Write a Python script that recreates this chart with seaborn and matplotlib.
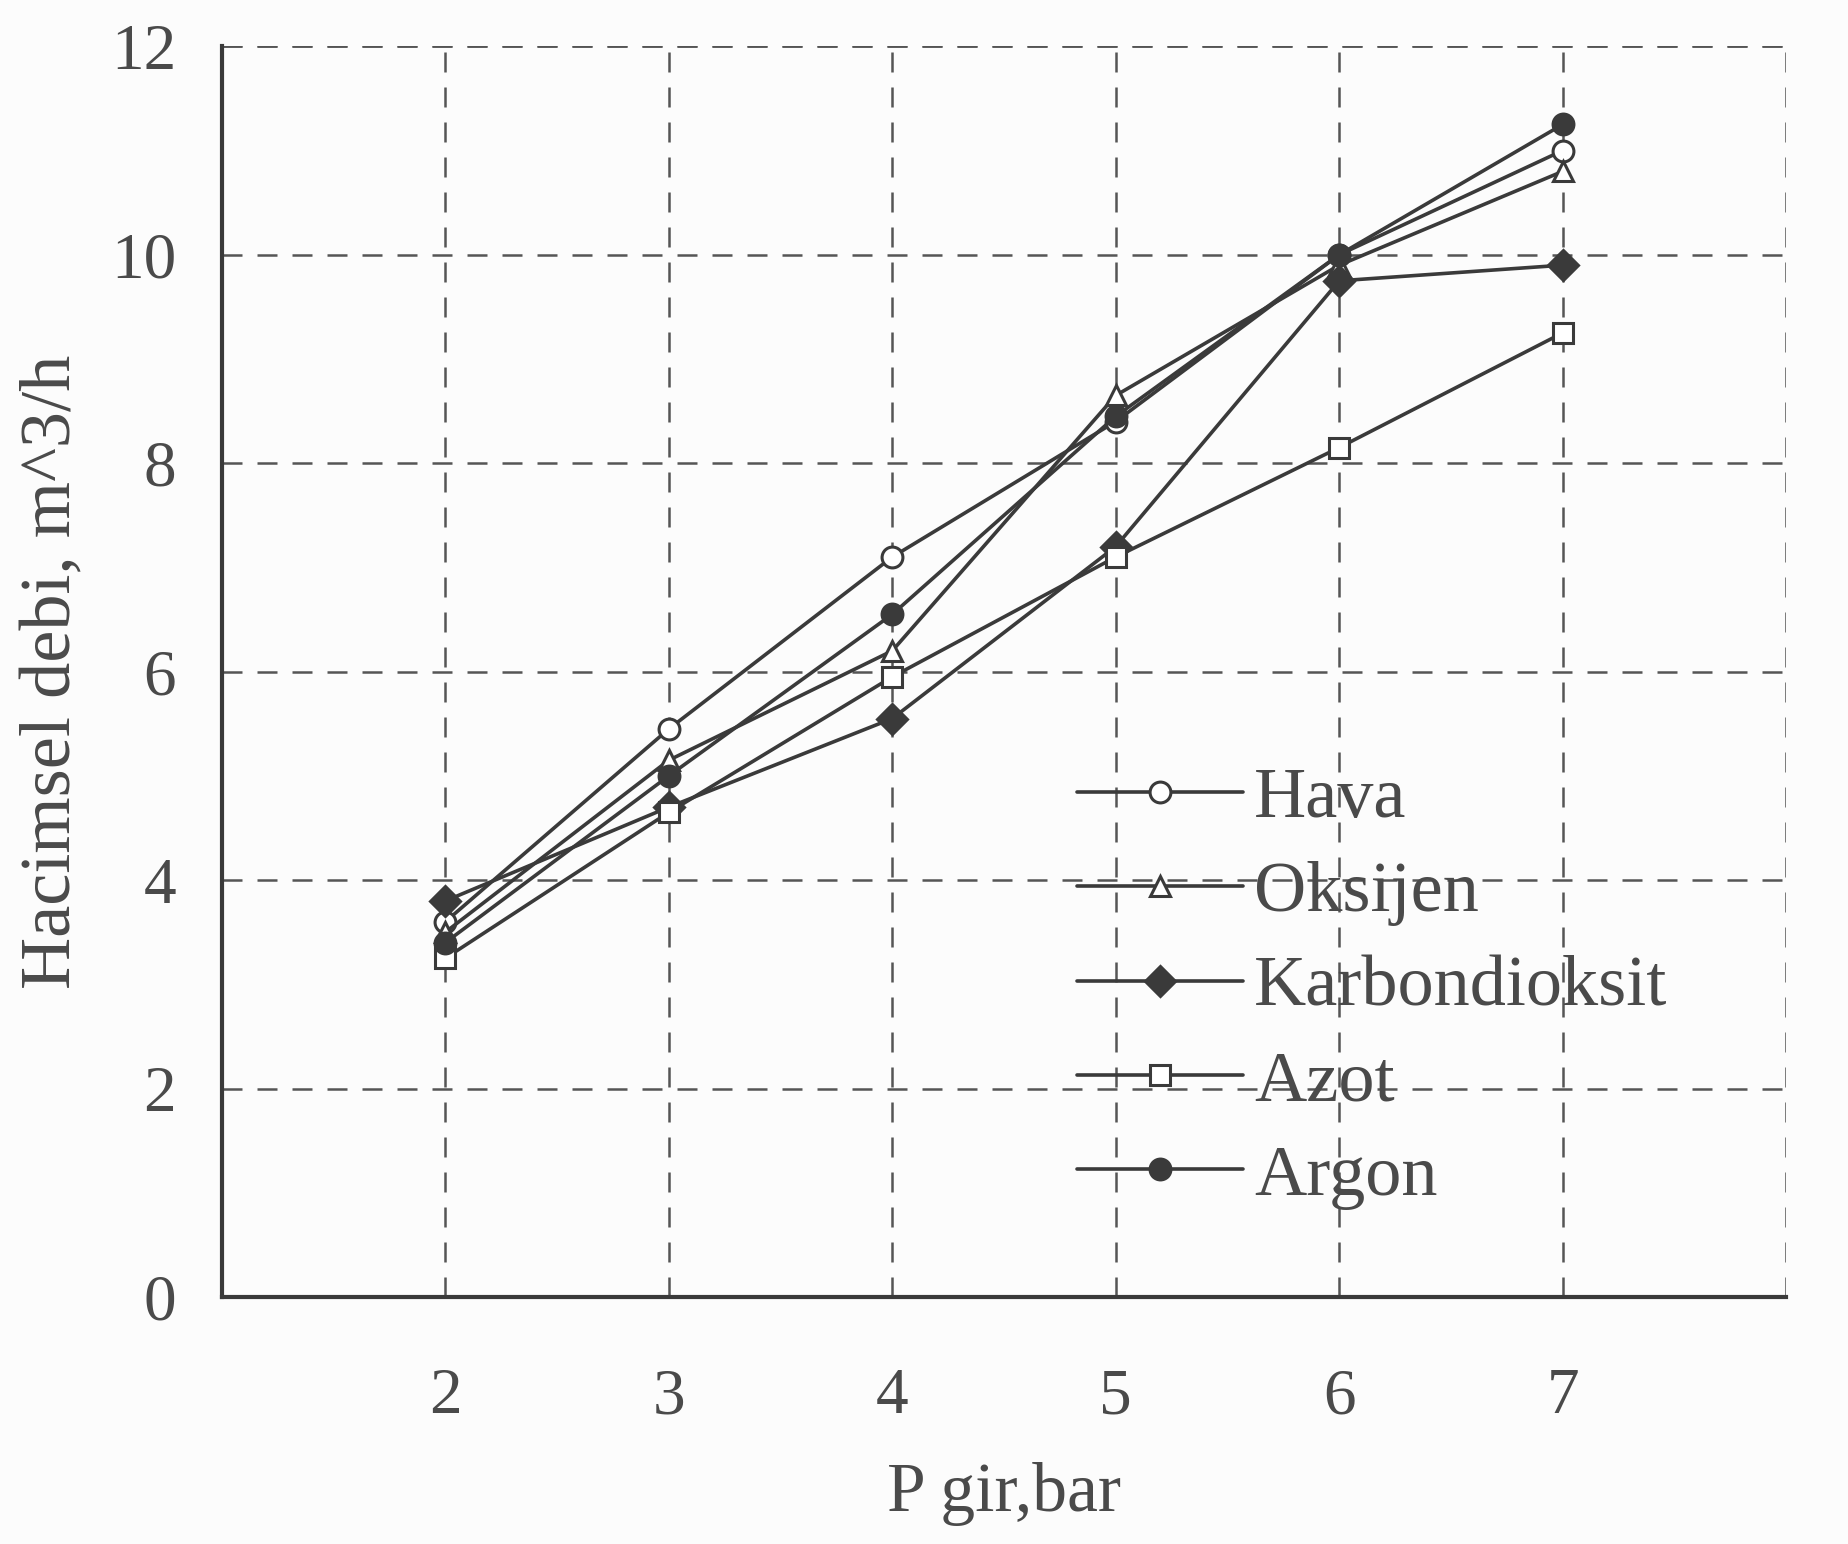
import matplotlib
matplotlib.use("Agg")
import matplotlib.pyplot as plt
import seaborn as sns
import pandas as pd

# ---- data ----
pressure = [2, 3, 4, 5, 6, 7]
hava = [3.6, 5.45, 7.1, 8.4, 10.0, 11.0]
oksijen = [3.5, 5.15, 6.2, 8.65, 9.9, 10.8]
karbondioksit = [3.8, 4.7, 5.55, 7.2, 9.75, 9.9]
azot = [3.25, 4.65, 5.95, 7.1, 8.15, 9.25]
argon = [3.4, 5.0, 6.55, 8.45, 10.0, 11.25]
series_names = ["Hava", "Oksijen", "Karbondioksit", "Azot", "Argon"]
x_ticks = [2, 3, 4, 5, 6, 7]
y_ticks = [0, 2, 4, 6, 8, 10, 12]

values = {"Hava": hava, "Oksijen": oksijen, "Karbondioksit": karbondioksit,
          "Azot": azot, "Argon": argon}
df = pd.DataFrame([
    {"P": p, "Q": v, "gas": name}
    for name in series_names for p, v in zip(pressure, values[name])
])

sns.set_theme(style="white")
plt.rcParams["font.family"] = ["Liberation Serif", "DejaVu Serif"]

ink = "#3a3a3a"
text_c = "#4a4a4a"

fig = plt.figure(figsize=(18.49, 15.44), dpi=100)
fig.patch.set_facecolor("#fcfcfc")
ax = fig.add_axes([0.12, 0.16, 0.846, 0.81])
ax.set_facecolor("#fcfcfc")

styles = {
    "Hava": dict(marker="o", markerfacecolor="white"),
    "Oksijen": dict(marker="^", markerfacecolor="white"),
    "Karbondioksit": dict(marker="D", markerfacecolor=ink),
    "Azot": dict(marker="s", markerfacecolor="white"),
    "Argon": dict(marker="o", markerfacecolor=ink),
}
for name in series_names:
    sub = df[df["gas"] == name]
    sns.lineplot(data=sub, x="P", y="Q", ax=ax, color=ink, linewidth=2.6,
                 markersize=15, markeredgecolor=ink, markeredgewidth=2.2,
                 label=name, **styles[name])

ax.set_xlim(1, 8)
ax.set_ylim(0, 12)
ax.set_xticks(x_ticks)
ax.set_yticks(y_ticks)
ax.grid(True, linestyle=(0, (8, 6)), color="#555555", linewidth=1.8)
ax.axvline(8, linestyle=(0, (8, 6)), color="#555555", linewidth=1.8)
ax.axhline(12, linestyle=(0, (8, 6)), color="#555555", linewidth=1.8)

for s in ["top", "right"]:
    ax.spines[s].set_visible(False)
for s in ["left", "bottom"]:
    ax.spines[s].set_color(ink)
    ax.spines[s].set_linewidth(3)

ax.tick_params(axis="x", direction="inout", length=22, width=2.5, color=ink,
               labelsize=47, labelcolor=text_c, pad=40)
ax.tick_params(axis="y", direction="inout", length=22, width=2.5, color=ink,
               labelsize=47, labelcolor=text_c, pad=22)

ax.set_xlabel("P gir,bar", fontsize=50, color=text_c, labelpad=25)
ax.set_ylabel("Hacimsel debi, m^3/h", fontsize=52, color=text_c, labelpad=18)

leg = ax.legend(loc="upper left", bbox_to_anchor=(0.563, 0.527),
                bbox_transform=fig.transFigure, frameon=False,
                fontsize=52, handlelength=2.3, handletextpad=0.15,
                labelspacing=0.4, borderpad=0)
for t in leg.get_texts():
    t.set_color(text_c)

fig.savefig("out.png", dpi=100, facecolor=fig.get_facecolor())
